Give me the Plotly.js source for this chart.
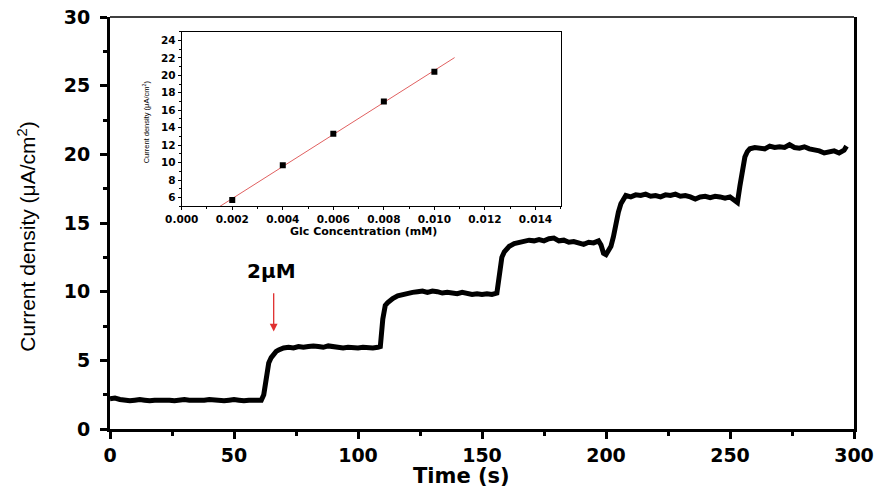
<!DOCTYPE html>
<html><head><meta charset="utf-8">
<script src="https://cdn.plot.ly/plotly-3.0.1.min.js"></script>
<style>html,body{margin:0;padding:0;background:#fff}#chart{width:877px;height:488px}</style>
</head><body><div id="chart"></div>
<script>
// Main amperometric trace (time in s, current density in µA/cm²)
const time = [0,2,4,6,8,10,12,14,16,18,20,22,24,26,28,30,32,34,36,38,40,42,44,46,48,50,52,54,56,58,60,61,
  62,63,64,65,66,67,68,70,72,74,76,78,80,82,84,86,88,90,92,94,96,98,100,102,104,106,108,109,
  110,111,112,113,114,116,118,120,122,124,126,128,130,132,134,136,138,140,142,144,146,148,150,152,154,156,
  157,158,159,160,161,163,165,167,169,171,173,175,177,179,181,183,185,187,189,191,193,195,197,198,199,200,201,202,
  203,204,205,206,207,208,210,212,214,216,218,220,222,224,226,228,230,232,234,236,238,240,242,244,246,248,250,252,253,
  254,255,256,257,258,260,262,264,266,268,270,272,274,276,278,280,282,284,286,288,290,292,294,296,297];
const current = [2.2,2.25,2.15,2.1,2.05,2.1,2.15,2.1,2.05,2.1,2.1,2.15,2.1,2.05,2.1,2.15,2.1,2.1,2.05,2.1,2.15,2.1,2.1,2.05,2.1,2.15,2.1,2.05,2.1,2.1,2.05,2.1,
  2.5,4.0,4.8,5.2,5.5,5.65,5.75,5.9,5.95,5.9,6.0,5.95,6.0,6.05,6.0,5.95,6.05,6.0,5.95,5.9,5.95,5.9,5.9,5.95,5.9,5.9,5.95,6.0,
  8.0,9.0,9.2,9.4,9.5,9.7,9.8,9.9,9.95,10.0,10.05,9.95,10.05,10.0,9.9,9.95,9.9,9.85,9.95,9.85,9.8,9.85,9.8,9.85,9.8,9.9,
  11.0,12.5,12.9,13.1,13.3,13.5,13.6,13.7,13.75,13.7,13.8,13.7,13.85,13.9,13.7,13.75,13.6,13.65,13.55,13.45,13.6,13.55,13.7,13.4,12.8,12.7,13.0,13.3,
  14.0,15.0,15.8,16.4,16.8,17.0,16.9,17.05,17.0,17.1,16.95,17.0,16.9,17.05,17.0,17.1,16.95,17.0,16.9,16.75,16.9,16.95,16.85,16.95,16.9,16.8,16.9,16.7,16.5,
  17.7,19.0,19.8,20.2,20.4,20.5,20.45,20.4,20.6,20.5,20.55,20.5,20.7,20.5,20.45,20.55,20.4,20.35,20.25,20.1,20.2,20.25,20.1,20.3,20.6];

// Inset calibration data
const glcConc = [0.002,0.004,0.006,0.008,0.010];
const glcCurrent = [5.7,9.7,13.3,17.0,20.4];
const fitEnd = 0.0108;

// Texts
const stepLabel = '2\u03bcM';
const stepTime = 66;
const arrowTop = 10.0, arrowTip = 7.1, labelY = 11.5;
const mainXTitle = 'Time (s)';
const mainYTitle = 'Current density (\u03bcA/cm<sup>2</sup>)';
const insetXTitle = 'Glc Concentration (mM)';
const insetYTitle = 'Current density (\u03bcA/cm<sup>2</sup>)';

// Least-squares fit for inset line
const n = glcConc.length;
const mx = glcConc.reduce((a,b)=>a+b,0)/n, my = glcCurrent.reduce((a,b)=>a+b,0)/n;
let sxy=0,sxx=0; for(let i=0;i<n;i++){sxy+=(glcConc[i]-mx)*(glcCurrent[i]-my);sxx+=(glcConc[i]-mx)**2;}
const slope=sxy/sxx, icpt=my-slope*mx;
const fitX=[0,fitEnd], fitY=fitX.map(x=>icpt+slope*x);

const F='Liberation Sans, Arial, sans-serif';
const FB='DejaVu Sans, Verdana, sans-serif';

const data=[
 {x:time,y:current,type:'scatter',mode:'lines',line:{color:'#000',width:5},xaxis:'x',yaxis:'y',hoverinfo:'skip'},
 {x:fitX,y:fitY,type:'scatter',mode:'lines',line:{color:'#e06060',width:1},xaxis:'x2',yaxis:'y2',cliponaxis:true},
 {x:glcConc,y:glcCurrent,type:'scatter',mode:'markers',marker:{symbol:'square',size:6,color:'#000'},xaxis:'x2',yaxis:'y2'}
];

const layout={
 width:877,height:488,showlegend:false,paper_bgcolor:'#fff',plot_bgcolor:'rgba(0,0,0,0)',
 margin:{l:110,r:23,t:17,b:59},
 xaxis:{range:[0,300],dtick:50,tick0:0,showgrid:false,zeroline:false,showline:true,linecolor:'#000',linewidth:3,
   ticks:'outside',ticklen:7,tickwidth:3,tickcolor:'#000',
   minor:{dtick:25,ticks:'outside',ticklen:4,tickwidth:3,tickcolor:'#000'},
   tickfont:{family:FB,size:19,weight:'bold',color:'#000'}},
 yaxis:{range:[0,30],dtick:5,tick0:0,showgrid:false,zeroline:false,showline:true,mirror:true,linecolor:'#000',linewidth:3,
   ticks:'outside',ticklen:7,tickwidth:3,tickcolor:'#000',ticklabelstandoff:6,
   minor:{dtick:2.5,ticks:'outside',ticklen:4,tickwidth:3,tickcolor:'#000'},
   tickfont:{family:FB,size:19,weight:'bold',color:'#000'}},
 xaxis2:{domain:[0.0964,0.6058],anchor:'y2',range:[0,0.015],dtick:0.002,tick0:0,tickformat:'.3f',showgrid:false,zeroline:false,
   showline:true,mirror:true,linecolor:'#000',linewidth:1,ticks:'outside',ticklen:3,tickwidth:1,tickcolor:'#000',
   minor:{dtick:0.001,ticks:'outside',ticklen:2,tickwidth:1,tickcolor:'#000'},
   tickfont:{family:FB,size:10.5,weight:'bold',color:'#000'}},
 yaxis2:{domain:[0.5407,0.9644],anchor:'x2',range:[5,25],dtick:2,tick0:0,showgrid:false,zeroline:false,
   showline:true,mirror:true,linecolor:'#000',linewidth:1,ticks:'outside',ticklen:3,tickwidth:1,tickcolor:'#000',
   minor:{dtick:1,ticks:'outside',ticklen:2,tickwidth:1,tickcolor:'#000'},
   tickfont:{family:FB,size:10.5,weight:'bold',color:'#000'}},
 shapes:[{type:'line',xref:'paper',yref:'paper',x0:0,x1:1,y0:1,y1:1,line:{color:'#000',width:1.5}}],
 annotations:[
  {x:stepTime,y:arrowTip,ax:stepTime,ay:arrowTop,xref:'x',yref:'y',axref:'x',ayref:'y',text:'',showarrow:true,
   arrowcolor:'#e03030',arrowwidth:1.3,arrowhead:2,arrowsize:1.2},
  {x:stepTime-0.7,y:labelY,xref:'x',yref:'y',text:stepLabel,showarrow:false,font:{family:FB,size:20,weight:'bold',color:'#000'}},
  {x:0.473,y:-0.115,xref:'paper',yref:'paper',text:mainXTitle,showarrow:false,yanchor:'middle',
   font:{family:FB,size:21,weight:'bold',color:'#000'}},
  {x:-0.112,y:0.466,xref:'paper',yref:'paper',text:mainYTitle,showarrow:false,textangle:-90,xanchor:'center',yanchor:'middle',
   font:{family:F,size:21,color:'#000'}},
  {x:0.341,y:0.479,xref:'paper',yref:'paper',text:insetXTitle,showarrow:false,yanchor:'middle',
   font:{family:FB,size:11,weight:'bold',color:'#000'}},
  {x:0.048,y:0.746,xref:'paper',yref:'paper',text:insetYTitle,showarrow:false,textangle:-90,xanchor:'center',yanchor:'middle',
   font:{family:F,size:7.5,color:'#000'}}
 ]
};
Plotly.newPlot('chart',data,layout,{displayModeBar:false,staticPlot:true});
</script></body></html>
